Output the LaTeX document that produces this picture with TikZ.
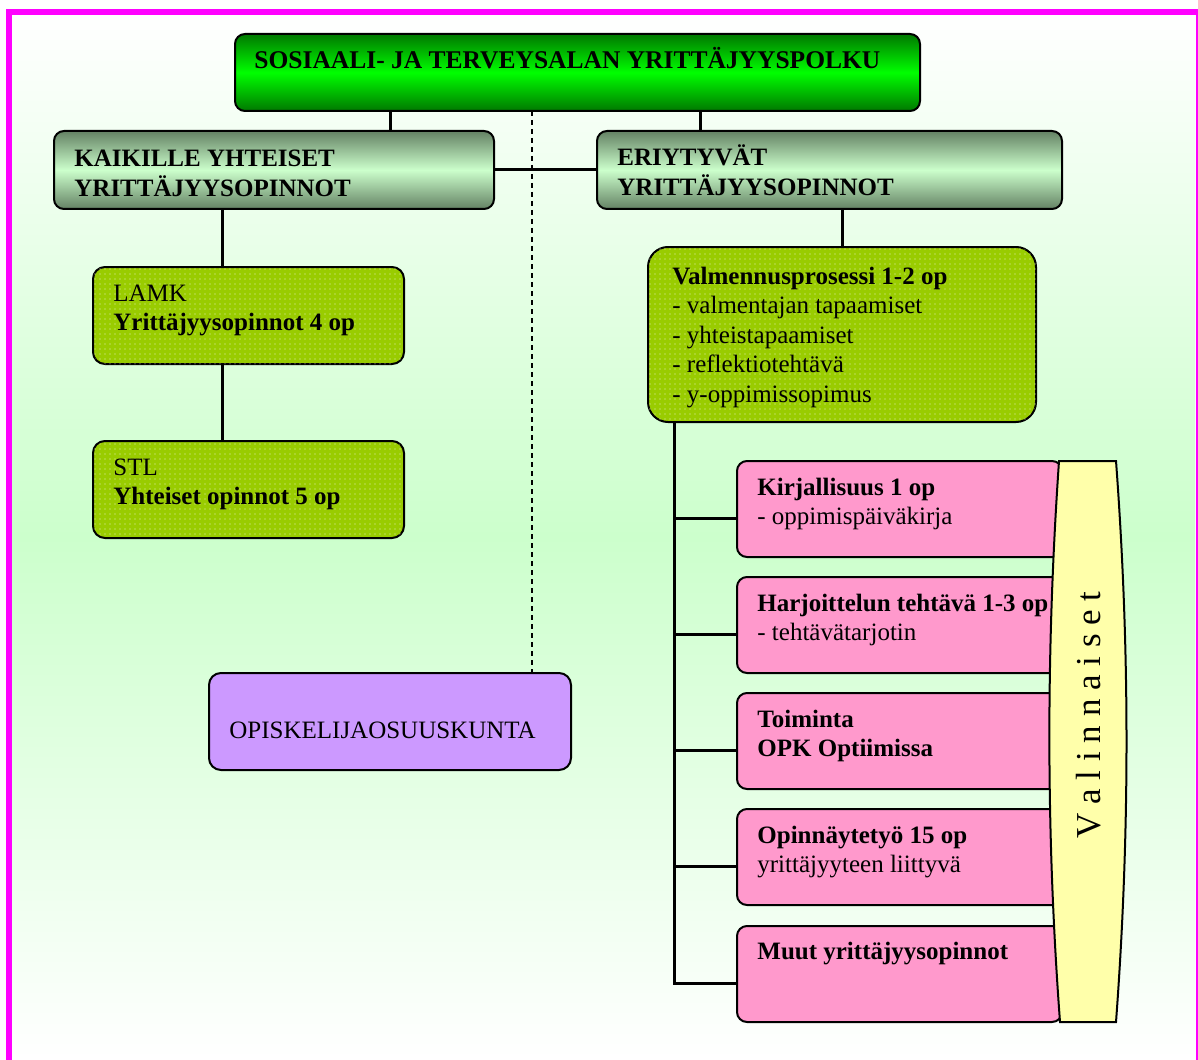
\documentclass[tikz,border=0pt]{standalone}
\usepackage{fontspec}
\setmainfont{Liberation Serif}
\usetikzlibrary{patterns.meta}
\definecolor{bggreen}{RGB}{204,255,204}
\definecolor{limeg}{RGB}{153,204,0}
\definecolor{pinkbox}{RGB}{255,153,204}
\definecolor{yellowbox}{RGB}{255,255,170}
\definecolor{violetbox}{RGB}{204,153,255}
\definecolor{darkgreen}{RGB}{0,120,0}
\definecolor{brightgreen}{RGB}{0,255,0}
\definecolor{greygreen}{RGB}{100,130,100}
\definecolor{frame}{RGB}{255,0,255}
\newcommand\mylines[1]{\begin{tabular}[t]{@{}l@{}}#1\end{tabular}}
\begin{document}
\begin{tikzpicture}[x=0.5pt,y=-0.5pt,
  box/.style={draw=black, line width=1pt, rounded corners=5pt, inner sep=0pt, outer sep=0pt, anchor=north west},
  titlebox/.style={box, top color=darkgreen, bottom color=darkgreen, middle color=brightgreen},
  headbox/.style={box, top color=greygreen, bottom color=greygreen, middle color=bggreen},
  dotbox/.style={box, rounded corners=6pt, fill=limeg, postaction={pattern={Dots[distance=2.5pt, radius=0.3pt]}, pattern color=white!75!limeg}},
  pinkb/.style={box, fill=pinkbox, minimum width=162.5pt, minimum height=48pt},
  conn/.style={draw=black, line width=1.5pt, line join=miter},
  dconn/.style={draw=black, line width=1pt, dash pattern=on 2.5pt off 2pt},
  txt/.style={anchor=base west, inner sep=0pt, font=\fontsize{12.5pt}{14.75pt}\selectfont},
]
\useasboundingbox (0,0) rectangle (1198,1059);
% background and frame
\fill[top color=white, bottom color=white, middle color=bggreen] (11,14) rectangle (1195,1059);
\draw[frame, line width=3pt, line cap=rect] (8.5,1062) -- (8.5,12) -- (1196,12);
\draw[frame, line width=1pt] (1196.5,12) -- (1196.5,1062);

% boxes
\node[titlebox, minimum width=342.5pt, minimum height=38.5pt] (title) at (235,34) {};
\node[headbox, minimum width=220pt, minimum height=39pt] (kaik) at (54,131) {};
\node[headbox, minimum width=232.5pt, minimum height=39pt] (eri) at (597,131) {};
\node[dotbox, minimum width=155.5pt, minimum height=48.5pt] (lamk) at (93,267) {};
\node[dotbox, minimum width=155.5pt, minimum height=48.5pt] (stl) at (93,441) {};
\node[dotbox, rounded corners=10pt, minimum width=194pt, minimum height=87.5pt] (valm) at (648,247) {};
\node[box, fill=violetbox, rounded corners=6pt, minimum width=181pt, minimum height=48.5pt] (opk) at (209,673) {};
\node[pinkb] (kir) at (737,461) {};
\node[pinkb] (har) at (737,577) {};
\node[pinkb] (toi) at (737,693) {};
\node[pinkb] (opi) at (737,809) {};
\node[pinkb] (muu) at (737,926) {};

% connector positions
\coordinate (xa) at (390,0);
\coordinate (xd) at (532,0);
\coordinate (xb) at (700,0);
\coordinate (xl) at (222.5,0);
\coordinate (xt) at (674,0);
\coordinate (kirc) at ([yshift=-4.5pt]kir.west);
\coordinate (harc) at ([yshift=-4.5pt]har.west);
\coordinate (toic) at ([yshift=-4.5pt]toi.west);
\coordinate (opic) at ([yshift=-4.5pt]opi.west);
\coordinate (muuc) at ([yshift=-4.5pt]muu.west);

% connectors
\draw[conn] (title.south -| xa) -- (kaik.north -| xa);
\draw[dconn] (title.south -| xd) -- (opk.north -| xd);
\draw[conn] (title.south -| xb) -- (eri.north -| xb);
\draw[conn] (kaik.east) -- (eri.west);
\draw[conn] (kaik.south -| xl) -- (lamk.north -| xl);
\draw[conn] (lamk.south -| xl) -- (stl.north -| xl);
\draw[conn] (eri.south -| valm.north) -- (valm.north);
\draw[conn] (valm.south -| xt) |- (muuc);
\draw[conn] (kirc -| xt) -- (kirc);
\draw[conn] (harc -| xt) -- (harc);
\draw[conn] (toic -| xt) -- (toic);
\draw[conn] (opic -| xt) -- (opic);

% texts
\node[txt, font=\fontsize{12.75pt}{15pt}\selectfont] (titleT) at (254,69) {\bfseries SOSIAALI- JA TERVEYSALAN YRITTÄJYYSPOLKU};
\node[txt] (kaikT) at (74,167) {\bfseries\mylines{KAIKILLE YHTEISET\\YRITTÄJYYSOPINNOT}};
\node[txt] (eriT) at (617,166) {\bfseries\mylines{ERIYTYVÄT\\YRITTÄJYYSOPINNOT}};
\node[txt] (lamkT) at (113,301) {\mylines{LAMK\\\textbf{Yrittäjyysopinnot 4 op}}};
\node[txt] (stlT) at (113,475) {\mylines{STL\\\textbf{Yhteiset opinnot 5 op}}};
\node[txt] (valmT) at (672,284) {\mylines{\textbf{Valmennusprosessi 1-2 op}\\- valmentajan tapaamiset\\- yhteistapaamiset\\- reflektiotehtävä\\- y-oppimissopimus}};
\node[txt] (opkT) at (229,738) {OPISKELIJAOSUUSKUNTA};
\node[txt] (kirT) at (757,495) {\mylines{\textbf{Kirjallisuus 1 op}\\- oppimispäiväkirja}};
\node[txt] (harT) at (757,611) {\mylines{\textbf{Harjoittelun tehtävä 1-3 op}\\- tehtävätarjotin}};
\node[txt] (toiT) at (757,727) {\mylines{\textbf{Toiminta}\\\textbf{OPK Optiimissa}}};
\node[txt] (opiT) at (757,843) {\mylines{\textbf{Opinnäytetyö 15 op}\\yrittäjyyteen liittyvä}};
\node[txt] (muuT) at (757,959) {\textbf{Muut yrittäjyysopinnot}};

% Valinnaiset
\path[draw=black, line width=1pt, fill=yellowbox] (1059,461) -- (1116,461) .. controls (1130,650) and (1130,833) .. (1116,1022) -- (1060,1022) .. controls (1046,833) and (1046,650) .. (1059,461) -- cycle;
\node[rotate=90, anchor=base, inner sep=0pt, font=\fontsize{17.5pt}{20pt}\selectfont] (valT) at (1100,715) {V a l i n n a i s e t};
\end{tikzpicture}
\end{document}
